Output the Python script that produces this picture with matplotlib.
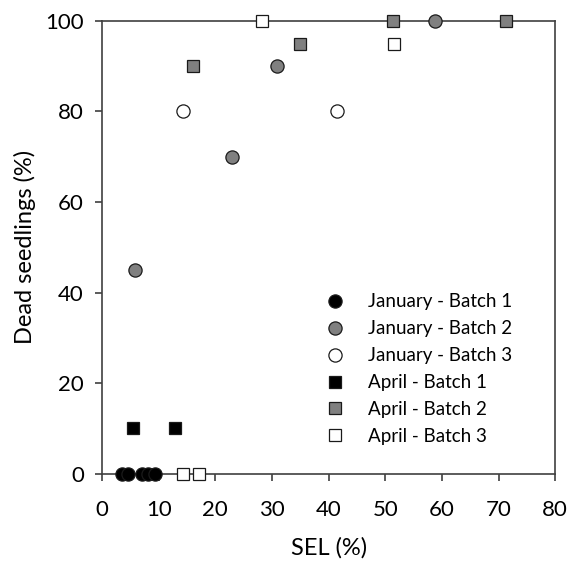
import matplotlib
matplotlib.use("Agg")
import matplotlib.pyplot as plt

plt.rcParams['font.family'] = ['Lato', 'DejaVu Sans']

# SEL (%) and dead seedlings (%) for each sowing date / batch
jan_b1_sel = [3.6, 4.6, 7.0, 8.1, 9.4]
jan_b1_dead = [0, 0, 0, 0, 0]
jan_b2_sel = [5.8, 23.0, 30.9, 58.7]
jan_b2_dead = [45, 70, 90, 100]
jan_b3_sel = [14.3, 41.5]
jan_b3_dead = [80, 80]
apr_b1_sel = [5.5, 12.9]
apr_b1_dead = [10, 10]
apr_b2_sel = [16.1, 35.0, 51.4, 71.4]
apr_b2_dead = [90, 95, 100, 100]
apr_b3_sel = [14.3, 17.1, 28.3, 51.6]
apr_b3_dead = [0, 0, 100, 95]

series = [
    ("January - Batch 1", jan_b1_sel, jan_b1_dead, "o", "black"),
    ("January - Batch 2", jan_b2_sel, jan_b2_dead, "o", "#808080"),
    ("January - Batch 3", jan_b3_sel, jan_b3_dead, "o", "white"),
    ("April - Batch 1", apr_b1_sel, apr_b1_dead, "s", "black"),
    ("April - Batch 2", apr_b2_sel, apr_b2_dead, "s", "#808080"),
    ("April - Batch 3", apr_b3_sel, apr_b3_dead, "s", "white"),
]

fig = plt.figure(figsize=(5.7, 5.64), dpi=100)
ax = fig.add_axes([0.179, 0.16, 0.795, 0.803])

for label, xs, ys, marker, face in series:
    size = 9.5 if marker == "o" else 8.2
    ax.plot(xs, ys, linestyle="none", marker=marker, markersize=size,
            markerfacecolor=face, markeredgecolor="#1a1a1a", markeredgewidth=0.9,
            label=label, clip_on=False, zorder=3)

ax.set_xlim(0, 80)
ax.set_ylim(0, 100)
ax.set_xticks(range(0, 81, 10))
ax.set_yticks(range(0, 101, 20))

for side in ax.spines.values():
    side.set_color("#404040")
    side.set_linewidth(1.2)

ax.tick_params(axis="both", direction="out", length=5, width=1.2, color="#404040",
               labelsize=16, labelcolor="black")
ax.tick_params(axis="x", pad=14)
ax.tick_params(axis="y", pad=8)

ax.set_xlabel("SEL (%)", fontsize=17, labelpad=12)
ax.set_ylabel("Dead seedlings (%)", fontsize=17, labelpad=7)

leg = ax.legend(loc="upper left", bbox_to_anchor=(0.472, 0.415), frameon=False,
                fontsize=13.5, handletextpad=1.2, labelspacing=0.53,
                borderaxespad=0, handlelength=1.2)

fig.savefig("out.png", dpi=100)
